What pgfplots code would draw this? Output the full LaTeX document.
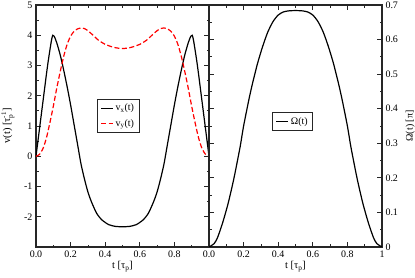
\documentclass[border=0pt]{standalone}
\usepackage{fontspec}
\setmainfont{Liberation Serif}
\usepackage{pgfplots}
\pgfplotsset{compat=1.18}
\usepackage{pgfplotstable}

\pgfplotstableread{
t v
0 0
0.01 0.45
0.02 0.9
0.03 1.35
0.04 1.8
0.05 2.25
0.06 2.7
0.07 3.12
0.08 3.5
0.09 3.85
0.097 4.0
0.105 3.97
0.12 3.75
0.14 3.35
0.16 2.85
0.18 2.3
0.20 1.7
0.22 1.05
0.24 0.4
0.26 -0.25
0.28 -0.75
0.30 -1.18
0.32 -1.5
0.35 -1.88
0.38 -2.1
0.42 -2.26
0.46 -2.32
0.50 -2.33
0.54 -2.32
0.58 -2.26
0.62 -2.1
0.65 -1.88
0.68 -1.5
0.70 -1.18
0.72 -0.75
0.74 -0.25
0.76 0.4
0.78 1.05
0.80 1.7
0.82 2.3
0.84 2.85
0.86 3.35
0.88 3.75
0.895 3.97
0.903 4.0
0.91 3.85
0.92 3.5
0.93 3.12
0.94 2.7
0.95 2.25
0.96 1.8
0.97 1.35
0.98 0.9
0.99 0.45
1 0
}\vxdata

\pgfplotstableread{
t v
0 0
0.02 0.06
0.04 0.25
0.06 0.6
0.08 1.1
0.10 1.65
0.12 2.25
0.14 2.8
0.16 3.3
0.18 3.7
0.20 3.97
0.22 4.13
0.24 4.21
0.26 4.24
0.28 4.22
0.30 4.15
0.33 4.0
0.36 3.84
0.40 3.7
0.45 3.6
0.50 3.56
0.55 3.6
0.60 3.7
0.64 3.84
0.67 4.0
0.70 4.15
0.72 4.22
0.74 4.24
0.76 4.21
0.78 4.13
0.80 3.97
0.82 3.7
0.84 3.3
0.86 2.8
0.88 2.25
0.90 1.65
0.92 1.1
0.94 0.6
0.96 0.25
0.98 0.06
1 0
}\vydata

\pgfplotstableread{
t w
0 0
0.03 0.01
0.05 0.028
0.08 0.072
0.11 0.125
0.135 0.178
0.15 0.213
0.18 0.29
0.20 0.35
0.23 0.425
0.25 0.47
0.28 0.53
0.31 0.58
0.34 0.622
0.37 0.652
0.40 0.671
0.43 0.68
0.46 0.683
0.50 0.684
0.54 0.683
0.57 0.68
0.60 0.671
0.63 0.652
0.66 0.622
0.69 0.58
0.72 0.53
0.75 0.47
0.77 0.425
0.80 0.35
0.82 0.29
0.85 0.213
0.865 0.178
0.89 0.125
0.92 0.072
0.95 0.028
0.97 0.01
1 0
}\omdata

\pgfplotsset{
  mystyle/.style={
    scale only axis, width=173bp, height=242bp,
    xmin=0, xmax=1,
    xtick={0,0.2,0.4,0.6,0.8,1}, minor x tick num=1,
    tick align=inside, major tick length=5bp, minor tick length=2.5bp,
    axis line style={line width=1.2bp, black!85},
    every tick/.style={black!85, line width=0.8bp},
    xtick pos=both,
    xlabel={t [τ$_{\mathrm{p}}$]},
    xlabel style={yshift=3bp},
    tick label style={font=\fontsize{10}{11}\selectfont},
    label style={font=\fontsize{10.5}{11}\selectfont},
    /pgf/number format/assume math mode=true,
    legend cell align=left,
    legend style={draw=black!85, line width=0.8bp, fill=white, inner xsep=3bp, inner ysep=3bp, row sep=3bp,
      font=\fontsize{10}{11}\selectfont},
    legend image code/.code={\draw[#1] (0bp,0bp) -- (12bp,0bp);},
  }
}

\begin{document}
\begin{tikzpicture}[font=\fontsize{10}{11}\selectfont]
\begin{axis}[mystyle, at={(0bp,0bp)}, anchor=south west,
  ymin=-3, ymax=5, ytick={-2,-1,0,1,2,3,4,5},
  yticklabels={-2,-1,0,1,2,3,4,5}, minor y tick num=1,
  ytick pos=both,
  xticklabels={0.0,0.2,0.4,0.6,0.8,{}},
  ylabel={v(t) [τ$_{\mathrm{p}}^{\hbox{\fontsize{7}{7}\selectfont -1}}$]},
  ylabel style={yshift=3bp},
  legend style={at={(0.353,0.613)}, anchor=north west},
]
\addplot[black, line width=1.2bp, smooth, tension=0.4] table[x=t, y=v] {\vxdata};
\addlegendentry{v$_{\mathrm{x}}$(t)}
\addplot[red, line width=1.2bp, smooth, tension=0.4, dash pattern=on 5bp off 2.5bp] table[x=t, y=v] {\vydata};
\addlegendentry{v$_{\mathrm{y}}$(t)}
\end{axis}
\begin{axis}[mystyle, at={(173bp,0bp)}, anchor=south west,
  ymin=0, ymax=0.7, ytick={0,0.1,0.2,0.3,0.4,0.5,0.6,0.7},
  yticklabels={0,0.1,0.2,0.3,0.4,0.5,0.6,0.7}, minor y tick num=1,
  ytick pos=both, yticklabel pos=right,
  xticklabels={0.0,0.2,0.4,0.6,0.8,1},
  ylabel={Ω(t) [π]},
  ylabel near ticks,
  ylabel style={yshift=-1bp},
  legend style={at={(0.366,0.559)}, anchor=north west},
]
\addplot[black, line width=1.2bp, smooth, tension=0.4] table[x=t, y=w] {\omdata};
\addlegendentry{Ω(t)}
\end{axis}
\pgfresetboundingbox
\path[use as bounding box] (-36bp,-31bp) rectangle (379bp,247bp);
\end{tikzpicture}
\end{document}
